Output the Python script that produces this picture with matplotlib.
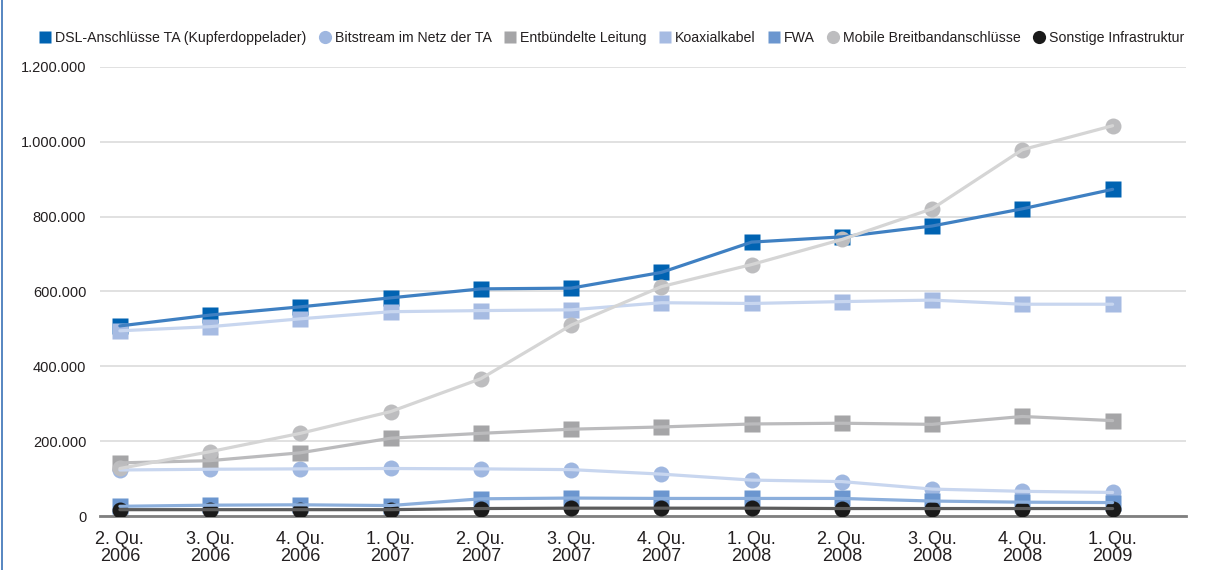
import numpy as np
import matplotlib
matplotlib.use("Agg")
import matplotlib.pyplot as plt
from matplotlib.lines import Line2D

plt.rcParams["font.family"] = ["Liberation Sans", "DejaVu Sans"]

quarters = ["2. Qu.\n2006", "3. Qu.\n2006", "4. Qu.\n2006", "1. Qu.\n2007",
            "2. Qu.\n2007", "3. Qu.\n2007", "4. Qu.\n2007", "1. Qu.\n2008",
            "2. Qu.\n2008", "3. Qu.\n2008", "4. Qu.\n2008", "1. Qu.\n2009"]

dsl = [508000, 537000, 559000, 583000, 607000, 609000, 651000, 732000, 746000, 775000, 821000, 873000]
bitstream = [123000, 125000, 126000, 127000, 126000, 124000, 112000, 96000, 92000, 72000, 66000, 63000]
entbuendelt = [142000, 148000, 169000, 208000, 221000, 232000, 238000, 246000, 248000, 245000, 266000, 255000]
koax = [495000, 506000, 527000, 546000, 549000, 551000, 570000, 568000, 573000, 577000, 566000, 566000]
fwa = [26000, 29000, 30000, 28000, 46000, 48000, 47000, 47000, 47000, 40000, 37000, 36000]
mobile = [127000, 172000, 221000, 279000, 367000, 510000, 613000, 672000, 739000, 821000, 979000, 1043000]
sonstige = [17000, 17000, 17000, 17000, 20000, 21000, 21000, 21000, 20000, 20000, 20000, 20000]

series = [
    ("DSL-Anschlüsse TA (Kupferdoppelader)", dsl, "s", "#0063b2", "#3f80c2"),
    ("Bitstream im Netz der TA", bitstream, "o", "#9fb7e0", "#c8d6ef"),
    ("Entbündelte Leitung", entbuendelt, "s", "#a5a5a7", "#bbbbbd"),
    ("Koaxialkabel", koax, "s", "#a6bbe2", "#c8d6ef"),
    ("FWA", fwa, "s", "#6b96cf", "#8cafdc"),
    ("Mobile Breitbandanschlüsse", mobile, "o", "#bdbdbf", "#d5d5d5"),
    ("Sonstige Infrastruktur", sonstige, "o", "#1a1a1a", "#5c5c5c"),
]

fig = plt.figure(figsize=(12.05, 5.7), dpi=100)
ax = fig.add_axes([0.083, 0.0947, 0.901, 0.7878])

x = np.arange(len(quarters))

# markers underneath, lighter connecting lines on top
for name, vals, mk, mcol, lcol in series:
    ms = 11 if mk == "s" else 11.5
    ax.plot(x, vals, linestyle="none", marker=mk, markersize=ms,
            markerfacecolor=mcol, markeredgecolor="none", zorder=3)
for name, vals, mk, mcol, lcol in series:
    ax.plot(x, vals, color=lcol, linewidth=2.3, zorder=4,
            solid_capstyle="round")

ax.set_ylim(0, 1200000)
ax.set_xlim(-0.22, 11.81)
ax.set_yticks(np.arange(0, 1200001, 200000))
ax.set_yticklabels([f"{v:,}".replace(",", ".") for v in range(0, 1200001, 200000)])
ax.set_xticks(x)
ax.set_xticklabels(quarters, linespacing=1.0)
ax.tick_params(axis="y", length=0, pad=10, labelsize=10.5, colors="#231f20")
ax.tick_params(axis="x", length=0, pad=11, labelsize=13, colors="#231f20")

ax.grid(axis="y", color="#dcdcdc", linewidth=1.2, zorder=0)
ax.set_axisbelow(True)
for s in ["top", "right", "left"]:
    ax.spines[s].set_visible(False)
ax.spines["bottom"].set_color("#7f7f7f")
ax.spines["bottom"].set_linewidth(2)
ax.spines["bottom"].set_zorder(2)

handles = [Line2D([], [], linestyle="none", marker=mk, markersize=8.5 if mk == "s" else 9.5,
                  markerfacecolor=mcol, markeredgecolor="none")
           for name, vals, mk, mcol, lcol in series]
labels = [s[0] for s in series]
fig.legend(handles, labels, loc="center", bbox_to_anchor=(0.508, 0.933), ncol=7,
           frameon=False, fontsize=10.2, handlelength=0.8, handletextpad=0.3,
           columnspacing=0.9, labelcolor="#231f20")

# thin frame line along the left edge
fig.add_artist(Line2D([0.0015, 0.0015], [0, 1], transform=fig.transFigure,
                      color="#3a72b6", linewidth=1.2))

fig.savefig("out.png", dpi=100)
